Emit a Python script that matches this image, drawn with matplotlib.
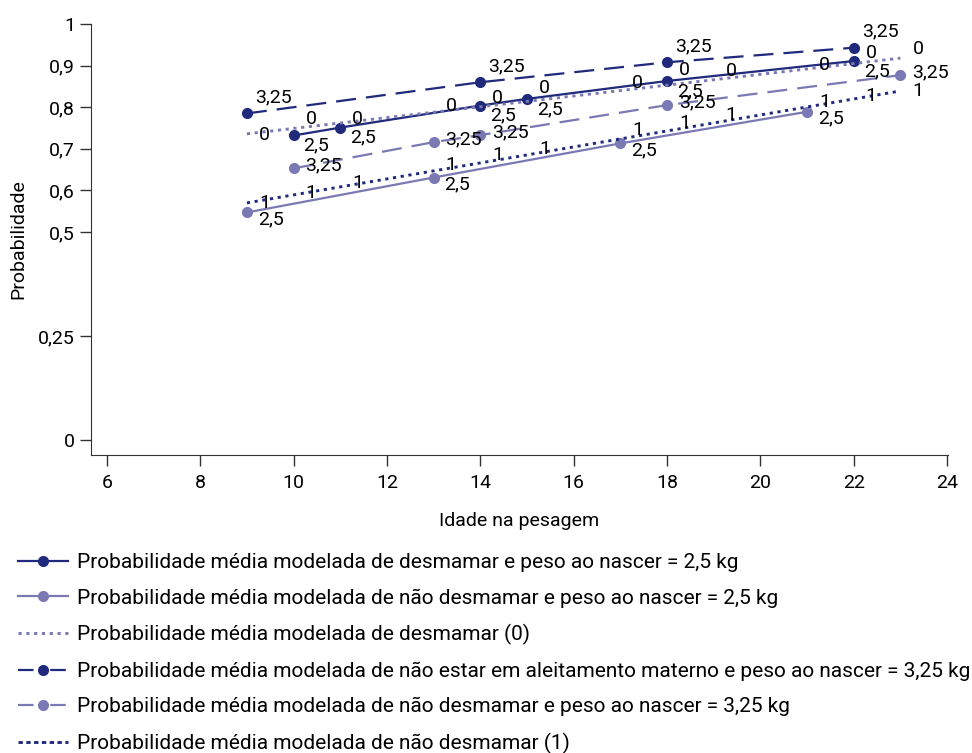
import numpy as np
import matplotlib
matplotlib.use('Agg')
import matplotlib.pyplot as plt
from matplotlib.lines import Line2D

plt.rcParams['font.family'] = ['Roboto', 'DejaVu Sans']

# Series with markers (ages in months, probabilities)
des25_x = [10, 11, 14, 15, 18, 22]
des25_y = [0.732, 0.751, 0.804, 0.820, 0.863, 0.911]

nao25_x = [9, 13, 17, 21]
nao25_y = [0.547, 0.631, 0.713, 0.789]

nae325_x = [9, 14, 18, 22]
nae325_y = [0.785, 0.860, 0.908, 0.943]

nao325_x = [10, 13, 14, 18, 23]
nao325_y = [0.653, 0.716, 0.733, 0.805, 0.877]

# Dotted mean lines and their labelled points
des0_line_x = [9, 23]
des0_line_y = [0.736, 0.918]
des0_x = [9, 10, 11, 13, 14, 15, 17, 18, 19, 21, 22, 23]
des0_y = [0.733, 0.772, 0.772, 0.803, 0.822, 0.846, 0.858, 0.889, 0.887, 0.901, 0.930, 0.940]

nao1_line_x = [9, 23]
nao1_line_y = [0.570, 0.839]
nao1_x = [9, 10, 11, 13, 14, 15, 17, 18, 19, 21, 22, 23]
nao1_y = [0.570, 0.594, 0.618, 0.661, 0.685, 0.700, 0.745, 0.762, 0.781, 0.812, 0.827, 0.839]

labels = [
    'Probabilidade média modelada de desmamar e peso ao nascer = 2,5 kg',
    'Probabilidade média modelada de não desmamar e peso ao nascer = 2,5 kg',
    'Probabilidade média modelada de desmamar (0)',
    'Probabilidade média modelada de não estar em aleitamento materno e peso ao nascer = 3,25 kg',
    'Probabilidade média modelada de não desmamar e peso ao nascer = 3,25 kg',
    'Probabilidade média modelada de não desmamar (1)',
]

yticks = [0, 0.25, 0.5, 0.6, 0.7, 0.8, 0.9, 1]
ytick_labels = ['0', '0,25', '0,5', '0,6', '0,7', '0,8', '0,9', '1']
xticks = [6, 8, 10, 12, 14, 16, 18, 20, 22, 24]

dark = '#1f2a7c'
light = '#7b79b4'
fs = 14

fig = plt.figure(figsize=(9.72, 7.53), dpi=100)
ax = fig.add_axes([91/972, 1 - 455/753, (948 - 91)/972, (455 - 24)/753])

lw = 1.6
dash = (9, 4.5)
dot = (1.1, 1.6)

ax.plot(des25_x, des25_y, color=dark, lw=lw, marker='o', ms=7)
ax.plot(nao25_x, nao25_y, color=light, lw=lw, marker='o', ms=7)
ax.plot(des0_line_x, des0_line_y, color=light, lw=lw * 1.3, dashes=dot)
ax.plot(nae325_x, nae325_y, color=dark, lw=lw, marker='o', ms=7, dashes=dash)
ax.plot(nao325_x, nao325_y, color=light, lw=lw, marker='o', ms=7, dashes=dash)
ax.plot(nao1_line_x, nao1_line_y, color=dark, lw=lw * 1.3, dashes=dot)

def put_labels(xs, ys, text, dx, dy):
    for x, y in zip(xs, ys):
        ax.annotate(text, (x, y), xytext=(dx, dy), textcoords='offset pixels',
                    ha='left', va='center', fontsize=fs, color='black')

put_labels(des25_x, des25_y, '2,5', 10, -10)
put_labels(nao25_x, nao25_y, '2,5', 11, -7)
put_labels(nae325_x, nae325_y, '3,25', 8, 16)
put_labels(nao325_x, nao325_y, '3,25', 12, 3)
put_labels(des0_x, des0_y, '0', 12, 0)
put_labels(nao1_x, nao1_y, '1', 12, 0)

ax.set_xlim(5.66, 24.02)
ax.set_ylim(-0.036, 1.0)
ax.set_xticks(xticks)
ax.set_yticks(yticks)
ax.set_yticklabels(ytick_labels)
ax.tick_params(labelsize=fs, length=8, width=1, color='#333333')
ax.tick_params(axis='x', pad=6)
for s in ['top', 'right']:
    ax.spines[s].set_visible(False)
for s in ['left', 'bottom']:
    ax.spines[s].set_color('#333333')
ax.set_xlabel('Idade na pesagem', fontsize=fs, labelpad=14)
ax.set_ylabel('Probabilidade', fontsize=fs, labelpad=8)

# legend proxies with shorter dash patterns so they show in the short handles
leg_dash = (7, 2.5, 2.5, 2.5)
handles = [
    Line2D([], [], color=dark, lw=lw, marker='o', ms=7),
    Line2D([], [], color=light, lw=lw, marker='o', ms=7),
    Line2D([], [], color=light, lw=lw * 1.3, dashes=dot),
    Line2D([], [], color=dark, lw=lw, marker='o', ms=7, dashes=leg_dash),
    Line2D([], [], color=light, lw=lw, marker='o', ms=7, dashes=leg_dash),
    Line2D([], [], color=dark, lw=lw * 1.3, dashes=(1.5, 1.2)),
]
fig.legend(handles, labels, loc='upper left',
           bbox_to_anchor=(18/972, 1 - 553/753), frameon=False, fontsize=15,
           handlelength=2.4, handletextpad=0.43, labelspacing=0.79,
           borderpad=0, borderaxespad=0)

fig.savefig('out.png', dpi=100)
